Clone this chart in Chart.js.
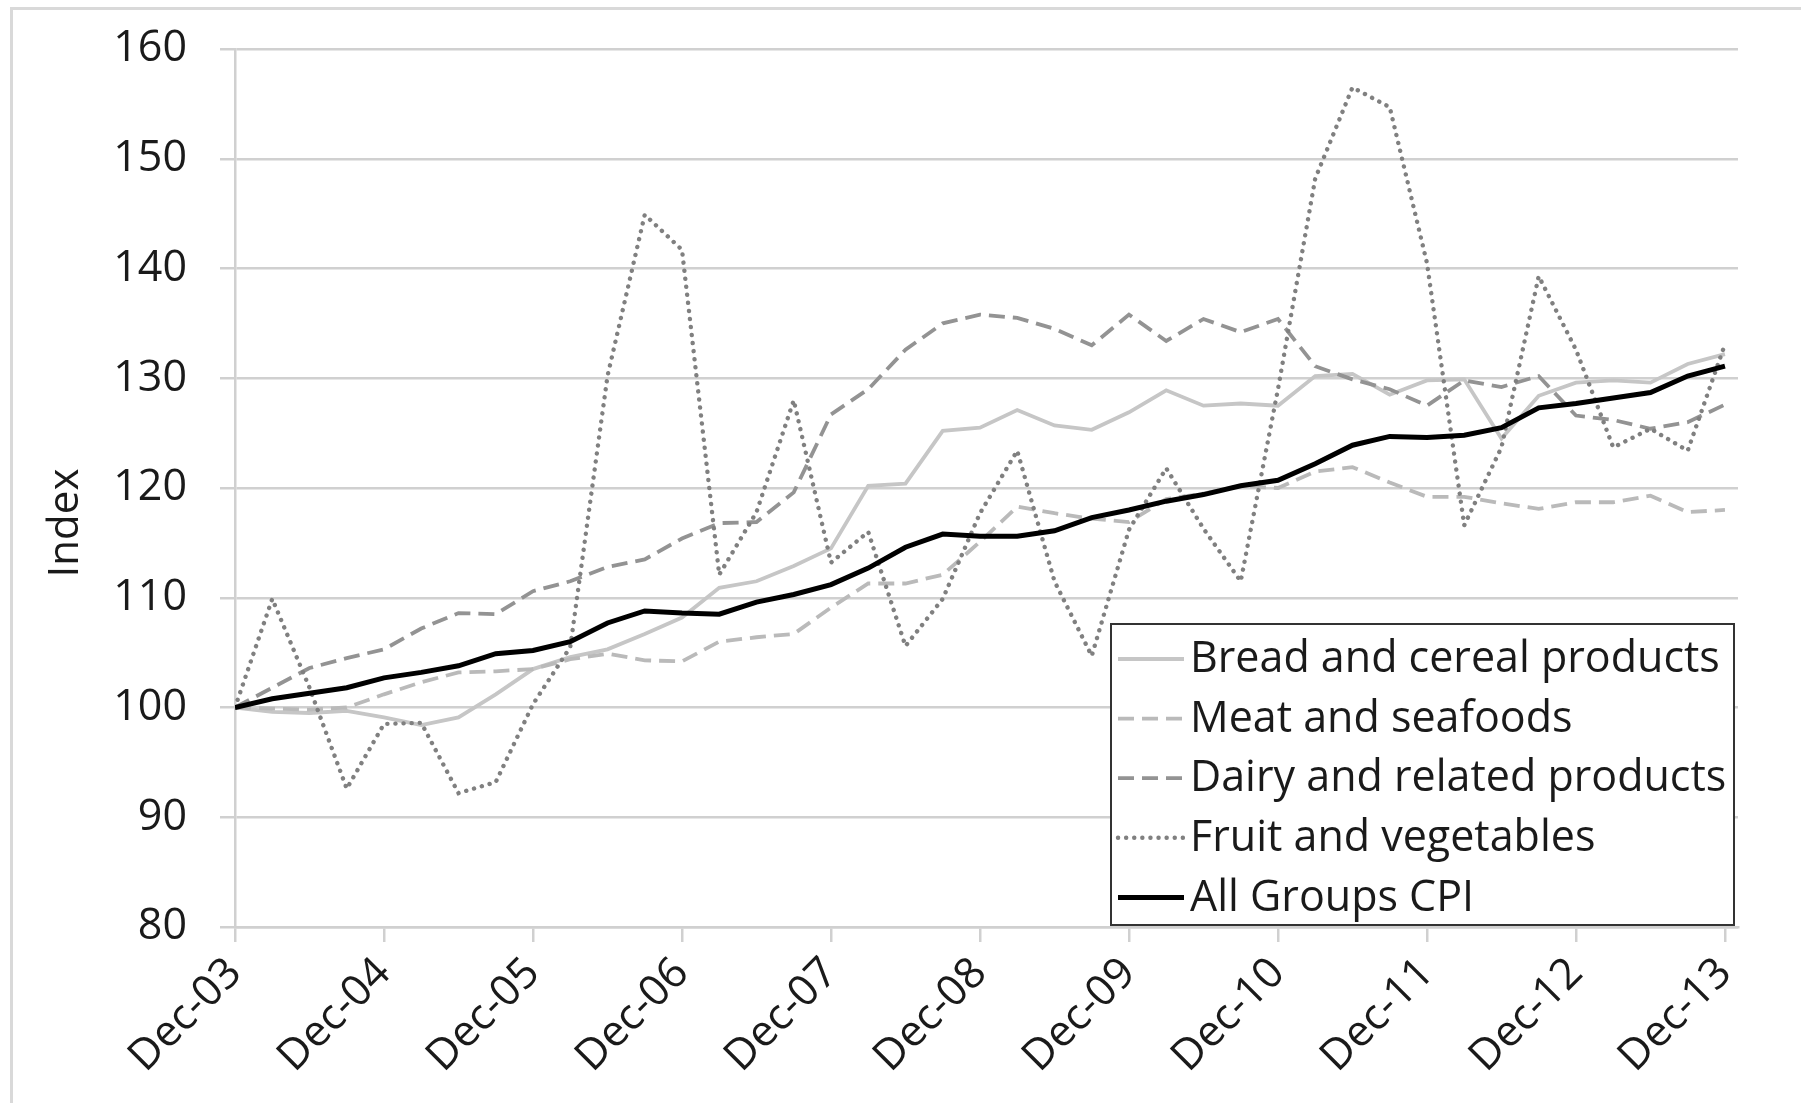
<!DOCTYPE html>
<html>
<head>
<meta charset="utf-8">
<script src="https://cdn.jsdelivr.net/npm/chart.js@4.4.1/dist/chart.umd.min.js"></script>
<style>
    html, body { margin: 0; padding: 0; background: #fff; overflow: hidden; }
    #frame { position: absolute; left: 10px; top: 7px; width: 2000px; height: 2000px;
             border: 3px solid #d9d9d9; box-sizing: border-box; }
    #chart { position: absolute; left: 0; top: 0; }
</style>
</head>
<body>
<div id="frame"></div>
<canvas id="chart" width="1801" height="1103"></canvas>
<script>
// Quarterly index, Dec-03 = 100 (quarter 0 = Dec-03 ... quarter 40 = Dec-13)
const tickLabels = ['Dec-03', 'Dec-04', 'Dec-05', 'Dec-06', 'Dec-07', 'Dec-08',
                    'Dec-09', 'Dec-10', 'Dec-11', 'Dec-12', 'Dec-13'];
const quartersPerYear = 4;

const seriesNames = ['Bread and cereal products', 'Meat and seafoods',
                     'Dairy and related products', 'Fruit and vegetables', 'All Groups CPI'];

const bread = [100, 99.6, 99.5, 99.7, 99.1, 98.4, 99.1, 101.2, 103.5, 104.6,
               105.3, 106.7, 108.2, 110.9, 111.5, 112.9, 114.5, 120.2, 120.4, 125.2,
               125.5, 127.1, 125.7, 125.3, 126.9, 128.9, 127.5, 127.7, 127.5, 130.2,
               130.4, 128.5, 129.8, 129.9, 124.5, 128.4, 129.6, 129.8, 129.6, 131.3, 132.2];

const meat = [100, 99.9, 99.8, 100.0, 101.2, 102.3, 103.2, 103.3, 103.5, 104.4,
              104.9, 104.3, 104.2, 106.0, 106.4, 106.7, 109.1, 111.3, 111.3, 112.1,
              115.1, 118.3, 117.7, 117.2, 116.9, 119.0, 119.5, 120.2, 120.0, 121.5,
              121.9, 120.5, 119.2, 119.2, 118.6, 118.1, 118.7, 118.7, 119.3, 117.8, 118.0];

const dairy = [100, 101.8, 103.6, 104.5, 105.3, 107.2, 108.6, 108.5, 110.6, 111.5,
               112.8, 113.5, 115.4, 116.8, 116.9, 119.6, 126.7, 129.0, 132.6, 135.0,
               135.8, 135.5, 134.5, 133.0, 135.8, 133.4, 135.4, 134.2, 135.4, 131.1,
               129.9, 129.0, 127.5, 129.8, 129.2, 130.2, 126.6, 126.2, 125.4, 126.0, 127.6];

const fruit = [100, 109.9, 101.8, 92.6, 98.5, 98.6, 92.2, 93.2, 100.3, 105.5,
               130.2, 144.9, 141.7, 112.1, 117.8, 128.0, 113.2, 116.0, 105.6, 109.9,
               117.7, 123.4, 111.5, 104.7, 116.2, 121.8, 116.3, 111.5, 129.0, 148.2,
               156.5, 154.7, 140.5, 116.6, 123.7, 139.3, 132.6, 123.7, 125.4, 123.4, 133.1];

const cpi = [100, 100.8, 101.3, 101.8, 102.7, 103.2, 103.8, 104.9, 105.2, 106.0,
             107.7, 108.8, 108.6, 108.5, 109.6, 110.3, 111.2, 112.7, 114.6, 115.8,
             115.6, 115.6, 116.1, 117.3, 118.0, 118.8, 119.4, 120.2, 120.7, 122.2,
             123.9, 124.7, 124.6, 124.8, 125.5, 127.3, 127.7, 128.2, 128.7, 130.2, 131.1];

const yTicks = [80, 90, 100, 110, 120, 130, 140, 150, 160];

// Estilo
const FONT = { family: '"Open Sans", "Noto Sans", sans-serif', size: 43 };
const TEXT_COLOR = '#1a1a1a';
const GRID_COLOR = '#d0d0d0';

function toPoints(arr) {
    return arr.map((v, i) => ({ x: i, y: v }));
}

// Título do eixo Y
const yTitlePlugin = {
    id: 'yTitle',
    afterDraw(chart) {
        const ctx = chart.ctx;
        ctx.save();
        ctx.translate(66, 523);
        ctx.rotate(-Math.PI / 2);
        ctx.font = `${FONT.size - 1}px ${FONT.family}`;
        ctx.fillStyle = TEXT_COLOR;
        ctx.textAlign = 'center';
        ctx.textBaseline = 'middle';
        ctx.fillText('Index', 0, 0);
        ctx.restore();
    }
};

// Legenda dentro da área do gráfico
const boxLegendPlugin = {
    id: 'boxLegend',
    afterDraw(chart) {
        const ctx = chart.ctx;
        const box = { x: 1111, y: 624, w: 623, h: 301 };
        ctx.save();
        ctx.fillStyle = '#ffffff';
        ctx.fillRect(box.x, box.y, box.w, box.h);
        ctx.strokeStyle = '#333333';
        ctx.lineWidth = 2;
        ctx.strokeRect(box.x, box.y, box.w, box.h);

        const rowTop = 659, rowGap = 59.6;
        chart.data.datasets.forEach((ds, i) => {
            const y = rowTop + i * rowGap;
            ctx.strokeStyle = ds.borderColor;
            ctx.lineWidth = ds.borderWidth;
            ctx.lineCap = ds.borderCapStyle || 'butt';
            ctx.setLineDash(ds.borderDash || []);
            ctx.beginPath();
            ctx.moveTo(1118, y);
            ctx.lineTo(1184, y);
            ctx.stroke();
            ctx.setLineDash([]);
            ctx.font = `${FONT.size}px ${FONT.family}`;
            ctx.fillStyle = TEXT_COLOR;
            ctx.textAlign = 'left';
            ctx.textBaseline = 'middle';
            ctx.fillText(ds.label, 1190, y + 1);
        });
        ctx.restore();
    }
};

const ctx = document.getElementById('chart');
new Chart(ctx, {
    type: 'line',
    data: {
        datasets: [{
            label: seriesNames[0],
            data: toPoints(bread),
            borderColor: '#c6c6c6',
            borderWidth: 3.8,
            order: 5
        }, {
            label: seriesNames[1],
            data: toPoints(meat),
            borderColor: '#bababa',
            borderWidth: 3.8,
            borderDash: [16, 8],
            order: 4
        }, {
            label: seriesNames[2],
            data: toPoints(dairy),
            borderColor: '#939393',
            borderWidth: 3.8,
            borderDash: [16, 8],
            order: 3
        }, {
            label: seriesNames[3],
            data: toPoints(fruit),
            borderColor: '#808080',
            borderWidth: 4.4,
            borderDash: [0.1, 8],
            borderCapStyle: 'round',
            order: 2
        }, {
            label: seriesNames[4],
            data: toPoints(cpi),
            borderColor: '#000000',
            borderWidth: 5,
            order: 1
        }]
    },
    options: {
        responsive: false,
        animation: false,
        devicePixelRatio: 1,
        elements: {
            point: { radius: 0, hoverRadius: 0 },
            line: { tension: 0, fill: false }
        },
        layout: { padding: { left: 0, top: 49, right: 63, bottom: 0 } },
        plugins: {
            legend: { display: false },
            tooltip: { enabled: false }
        },
        scales: {
            x: {
                type: 'linear',
                min: 0,
                max: (tickLabels.length - 1) * quartersPerYear + 0.35,
                afterBuildTicks: scale => {
                    scale.ticks = tickLabels.map((_, i) => ({ value: i * quartersPerYear }));
                },
                afterFit: scale => { scale.height = 176; },
                ticks: {
                    callback: (value, index) => tickLabels[index],
                    autoSkip: false,
                    minRotation: 45,
                    maxRotation: 45,
                    padding: 6,
                    font: FONT,
                    color: TEXT_COLOR
                },
                grid: {
                    drawOnChartArea: false,
                    drawTicks: true,
                    tickLength: 15,
                    color: GRID_COLOR,
                    lineWidth: 2.5
                },
                border: { color: GRID_COLOR, width: 2.5 }
            },
            y: {
                min: yTicks[0],
                max: yTicks[yTicks.length - 1],
                afterFit: scale => { scale.width = 235; },
                ticks: {
                    stepSize: 10,
                    padding: 33,
                    // lineHeight baixo para não empurrar a área do gráfico para baixo
                    font: { family: FONT.family, size: FONT.size, lineHeight: 0.2 },
                    color: TEXT_COLOR
                },
                grid: {
                    color: GRID_COLOR,
                    lineWidth: 2.5,
                    tickLength: 15
                },
                border: { color: GRID_COLOR, width: 2.5 }
            }
        }
    },
    plugins: [yTitlePlugin, boxLegendPlugin]
});
</script>
</body>
</html>
